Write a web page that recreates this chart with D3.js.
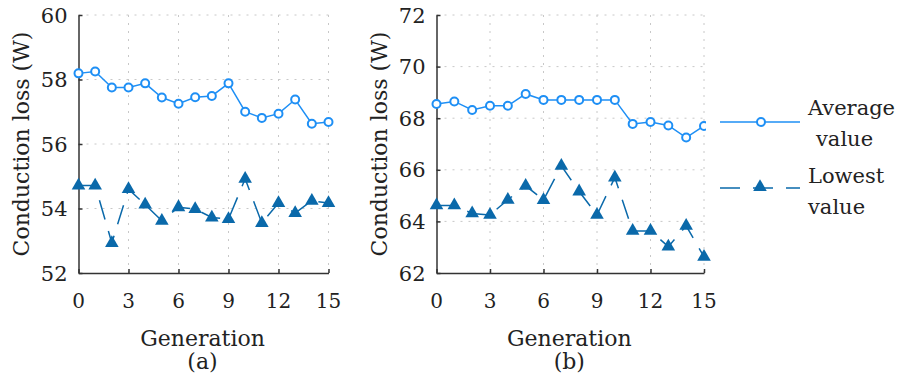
<!DOCTYPE html>
<html lang="en">
<head>
<meta charset="utf-8">
<title>Conduction loss vs generation</title>
<style>
body{
  margin: 0;
  background: #fff;
}
svg text{
  font-family: "DejaVu Serif", serif;
  fill: #222;
}
.grid line{
  stroke: #c8c8c8;
  stroke-width: 1;
  stroke-dasharray: 2,6;
}
.axis path, .axis line{
  fill: none;
  stroke: #333;
  stroke-width: 1.5;
}
</style>
</head>
<body>
<div id="chart"></div>
<script src="https://d3js.org/d3.v7.min.js"></script>
<script>

// generations 0..15
const generations = [0,1,2,3,4,5,6,7,8,9,10,11,12,13,14,15];
const xTicks = [0,3,6,9,12,15];

// panel (a)
const avgA = [58.19,58.25,57.75,57.75,57.88,57.44,57.25,57.45,57.49,57.88,57.0,56.81,56.94,57.38,56.63,56.68];
const lowA = [54.71,54.71,52.93,54.6,54.12,53.62,54.04,53.98,53.72,53.67,54.92,53.55,54.17,53.86,54.24,54.17];
const yTicksA = [52,54,56,58,60];

// panel (b)
const avgB = [68.55,68.65,68.32,68.48,68.48,68.94,68.71,68.71,68.71,68.71,68.71,67.78,67.85,67.72,67.25,67.70];
const lowB = [64.62,64.62,64.31,64.25,64.84,65.38,64.83,66.15,65.16,64.25,65.70,63.63,63.63,63.02,63.83,62.63];
const yTicksB = [62,64,66,68,70,72];

const seriesNames = ["Average value", "Lowest value"];

const avgColor = "#1e8ff5";
const lowColor = "#0a69aa";

const width = 899, height = 377;

const svg = d3.select('#chart')
  .append('svg')
  .attr('width', width)
  .attr('height', height);

function drawPanel(left, right, avg, low, yTicks, tag) {
  const top = 15, bottom = 273;
  const x = d3.scaleLinear().domain([0, 15]).range([left, right]);
  const y = d3.scaleLinear().domain(d3.extent(yTicks)).range([bottom, top]);

  const g = svg.append('g');

  // dotted grid
  const grid = g.append('g').attr('class', 'grid');
  grid.selectAll('.gx')
    .data(xTicks.slice(1))
    .join('line')
    .attr('x1', d => x(d)).attr('x2', d => x(d))
    .attr('y1', top).attr('y2', bottom);
  grid.selectAll('.gy')
    .data(yTicks.slice(1))
    .join('line')
    .attr('x1', left).attr('x2', right)
    .attr('y1', d => y(d)).attr('y2', d => y(d));

  // axes with inward ticks
  g.append('g')
    .attr('class', 'axis')
    .attr('transform', 'translate(' + left + ',0)')
    .call(d3.axisRight(y).tickValues(yTicks).tickSize(4).tickSizeOuter(0).tickFormat(''));
  g.append('g')
    .attr('class', 'axis')
    .attr('transform', 'translate(0,' + bottom + ')')
    .call(d3.axisTop(x).tickValues(xTicks).tickSize(4).tickSizeOuter(0).tickFormat(''));

  // tick labels
  g.selectAll('.ylab')
    .data(yTicks)
    .join('text')
    .attr('x', left - 11)
    .attr('y', d => y(d) + 7.5)
    .attr('text-anchor', 'end')
    .style('font-size', '21px')
    .text(d => d);
  g.selectAll('.xlab')
    .data(xTicks)
    .join('text')
    .attr('x', d => x(d))
    .attr('y', 308)
    .attr('text-anchor', 'middle')
    .style('font-size', '20px')
    .text(d => d);

  // axis titles
  g.append('text')
    .attr('transform', 'translate(' + (left - 50) + ',' + ((top + bottom) / 2) + ') rotate(-90)')
    .attr('text-anchor', 'middle')
    .style('font-size', '22px')
    .text('Conduction loss (W)');
  g.append('text')
    .attr('x', (left + right) / 2 - 1)
    .attr('y', 346)
    .attr('text-anchor', 'middle')
    .style('font-size', '22px')
    .text('Generation');
  g.append('text')
    .attr('x', (left + right) / 2 - 1)
    .attr('y', 369)
    .attr('text-anchor', 'middle')
    .style('font-size', '22px')
    .text(tag);

  const line = d3.line()
    .x((d, i) => x(generations[i]))
    .y(d => y(d));

  // lowest value: dashed with filled triangles
  g.append('path')
    .datum(low)
    .attr('d', line)
    .attr('fill', 'none')
    .attr('stroke', lowColor)
    .attr('stroke-width', 1.5)
    .attr('stroke-dasharray', '20,12');
  g.selectAll('.tri')
    .data(low)
    .join('path')
    .attr('d', d3.symbol(d3.symbolTriangle, 80))
    .attr('transform', (d, i) => 'translate(' + x(generations[i]) + ',' + y(d) + ')')
    .attr('fill', lowColor);

  // average value: solid with open circles
  g.append('path')
    .datum(avg)
    .attr('d', line)
    .attr('fill', 'none')
    .attr('stroke', avgColor)
    .attr('stroke-width', 1.5);
  g.selectAll('.circ')
    .data(avg)
    .join('circle')
    .attr('cx', (d, i) => x(generations[i]))
    .attr('cy', d => y(d))
    .attr('r', 4)
    .attr('fill', '#fff')
    .attr('stroke', avgColor)
    .attr('stroke-width', 2);
}

drawPanel(78.5, 328.5, avgA, lowA, yTicksA, '(a)');
drawPanel(436.5, 704, avgB, lowB, yTicksB, '(b)');

// legend (white box covers the plot edge)
const leg = svg.append('g');
leg.append('rect')
  .attr('x', 706).attr('y', 88)
  .attr('width', 193).attr('height', 140)
  .attr('fill', '#fff');

leg.append('line')
  .attr('x1', 720).attr('x2', 800)
  .attr('y1', 122).attr('y2', 122)
  .attr('stroke', avgColor).attr('stroke-width', 1.5);
leg.append('circle')
  .attr('cx', 761).attr('cy', 122).attr('r', 4)
  .attr('fill', '#fff').attr('stroke', avgColor).attr('stroke-width', 2);

leg.append('line')
  .attr('x1', 720).attr('x2', 800)
  .attr('y1', 188).attr('y2', 188)
  .attr('stroke', lowColor).attr('stroke-width', 1.5)
  .attr('stroke-dasharray', '20,13');
leg.append('path')
  .attr('d', d3.symbol(d3.symbolTriangle, 80))
  .attr('transform', 'translate(760,187)')
  .attr('fill', lowColor);

const legText = [
  [seriesNames[0].split(' ')[0], 808, 115],
  [seriesNames[0].split(' ')[1], 816, 146],
  [seriesNames[1].split(' ')[0], 808, 183],
  [seriesNames[1].split(' ')[1], 808, 214]
];
leg.selectAll('.lt')
  .data(legText)
  .join('text')
  .attr('x', d => d[1])
  .attr('y', d => d[2])
  .style('font-size', '21px')
  .text(d => d[0]);

</script>
</body>
</html>
